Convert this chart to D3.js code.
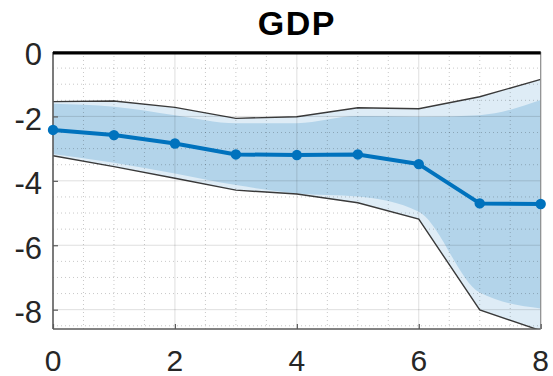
<!DOCTYPE html>
<html>
<head>
<meta charset="utf-8">
<script src="https://cdn.jsdelivr.net/npm/d3@7"></script>
<style>
  html, body { margin: 0; padding: 0; background: #fff; }
  svg { display: block; }
  text { font-family: "Liberation Sans", Arial, Helvetica, sans-serif; }
</style>
</head>
<body>
<svg id="chart" width="553" height="376"></svg>
<script>
const title = "GDP";
const horizons = [0, 1, 2, 3, 4, 5, 6, 7, 8];
const median = [-2.42, -2.58, -2.84, -3.18, -3.20, -3.18, -3.48, -4.70, -4.72];
const outerUpper = [-1.54, -1.52, -1.72, -2.06, -2.01, -1.73, -1.76, -1.39, -0.85];
const outerLower = [-3.22, -3.56, -3.92, -4.29, -4.41, -4.68, -5.19, -8.01, -8.65];
const innerUpper = [-1.61, -1.70, -1.96, -2.21, -2.21, -1.99, -2.01, -1.96, -1.49];
const innerLower = [-3.17, -3.44, -3.77, -4.13, -4.39, -4.49, -4.96, -7.47, -7.96];
const xTicks = [0, 2, 4, 6, 8];
const yTicks = [0, -2, -4, -6, -8];
const xMinor = d3.range(0, 8.01, 0.5);
const yMinor = d3.range(-8.5, 0.01, 0.5);

const svg = d3.select("#chart");
const L = 53, R = 540.7, T = 52, B = 329;
const x = d3.scaleLinear().domain([0, 8]).range([L, R]);
const y = d3.scaleLinear().domain([-8.6, 0]).range([B, T]);

svg.append("defs").append("clipPath").attr("id", "clip")
  .append("rect").attr("x", L).attr("y", T).attr("width", R - L).attr("height", B - T);

const plot = svg.append("g").attr("clip-path", "url(#clip)");

const rows = horizons.map((h, i) => ({
  h, m: median[i], ou: outerUpper[i], ol: outerLower[i], iu: innerUpper[i], il: innerLower[i]
}));

// outer band
plot.append("path").datum(rows)
  .attr("fill", "#deecf6")
  .attr("d", d3.area().x(d => x(d.h)).y0(d => y(d.ol)).y1(d => y(d.ou)));

// inner band
plot.append("path").datum(rows)
  .attr("fill", "#b3d4ea")
  .attr("d", d3.area().curve(d3.curveMonotoneX).x(d => x(d.h)).y0(d => y(d.il)).y1(d => y(d.iu)));

// minor grid (dotted)
const grid = svg.append("g");
grid.selectAll(".mx").data(xMinor.filter(v => v % 2 !== 0)).enter().append("line")
  .attr("x1", d => x(d)).attr("x2", d => x(d)).attr("y1", T).attr("y2", B)
  .attr("stroke", "rgba(0,0,0,0.22)").attr("stroke-width", 1).attr("stroke-dasharray", "1,3");
grid.selectAll(".my").data(yMinor.filter(v => v % 2 !== 0)).enter().append("line")
  .attr("y1", d => y(d)).attr("y2", d => y(d)).attr("x1", L).attr("x2", R)
  .attr("stroke", "rgba(0,0,0,0.22)").attr("stroke-width", 1).attr("stroke-dasharray", "1,3");
// major grid
grid.selectAll(".gx").data(xTicks.filter(v => v > 0 && v < 8)).enter().append("line")
  .attr("x1", d => x(d)).attr("x2", d => x(d)).attr("y1", T).attr("y2", B)
  .attr("stroke", "rgba(0,0,0,0.13)").attr("stroke-width", 1);
grid.selectAll(".gy").data(yTicks.filter(v => v < 0)).enter().append("line")
  .attr("y1", d => y(d)).attr("y2", d => y(d)).attr("x1", L).attr("x2", R)
  .attr("stroke", "rgba(0,0,0,0.13)").attr("stroke-width", 1);

// outer band edge lines
const edge = d3.line().x(d => x(d[0])).y(d => y(d[1]));
plot.append("path").datum(horizons.map((h, i) => [h, outerUpper[i]]))
  .attr("fill", "none").attr("stroke", "#3a3a3a").attr("stroke-width", 1.4).attr("d", edge);
plot.append("path").datum(horizons.map((h, i) => [h, outerLower[i]]))
  .attr("fill", "none").attr("stroke", "#3a3a3a").attr("stroke-width", 1.4).attr("d", edge);

// axes frame
svg.append("line").attr("x1", L).attr("x2", L).attr("y1", T).attr("y2", B)
  .attr("stroke", "#5a5a5a").attr("stroke-width", 1.6);
svg.append("line").attr("x1", L).attr("x2", R).attr("y1", B).attr("y2", B)
  .attr("stroke", "#5a5a5a").attr("stroke-width", 1.6);
svg.append("line").attr("x1", R).attr("x2", R).attr("y1", T).attr("y2", B)
  .attr("stroke", "#8a8a8a").attr("stroke-width", 1.2);

// ticks (inward)
const yAxis = d3.axisLeft(y).tickValues(yTicks).tickSize(-5).tickFormat("");
const ya = svg.append("g").attr("transform", `translate(${L},0)`).call(yAxis);
ya.select(".domain").remove();
ya.selectAll("line").attr("stroke", "#5a5a5a").attr("stroke-width", 1.2);
const xAxis = d3.axisBottom(x).tickValues(xTicks).tickSize(-5).tickFormat("");
const xa = svg.append("g").attr("transform", `translate(0,${B})`).call(xAxis);
xa.select(".domain").remove();
xa.selectAll("line").attr("stroke", "#5a5a5a").attr("stroke-width", 1.2);

// zero line (thick black)
svg.append("line").attr("x1", L).attr("x2", R).attr("y1", y(0) + 0.8).attr("y2", y(0) + 0.8)
  .attr("stroke", "#000").attr("stroke-width", 3.2);

// median line + markers
svg.append("path").datum(rows)
  .attr("fill", "none").attr("stroke", "#0072bd").attr("stroke-width", 4)
  .attr("stroke-linejoin", "round")
  .attr("d", d3.line().x(d => x(d.h)).y(d => y(d.m)));
svg.selectAll(".dot").data(rows).enter().append("circle")
  .attr("cx", d => x(d.h)).attr("cy", d => y(d.m)).attr("r", 5.2)
  .attr("fill", "#0072bd");

// tick labels
svg.selectAll(".yl").data(yTicks).enter().append("text")
  .attr("x", 42).attr("y", d => y(d) + 2.5)
  .attr("dy", "0.35em").attr("text-anchor", "end")
  .attr("font-size", 31).attr("fill", "#262626")
  .text(d => d === 0 ? "0" : "-" + Math.abs(d));
svg.selectAll(".xl").data(xTicks).enter().append("text")
  .attr("x", d => x(d)).attr("y", 371)
  .attr("text-anchor", "middle")
  .attr("font-size", 30).attr("fill", "#262626")
  .text(d => d);

// title
svg.append("text").attr("x", (L + R) / 2).attr("y", 35)
  .attr("text-anchor", "middle").attr("font-size", 34).attr("font-weight", "bold")
  .attr("letter-spacing", 1.5)
  .attr("fill", "#000").text(title);
</script>
</body>
</html>
